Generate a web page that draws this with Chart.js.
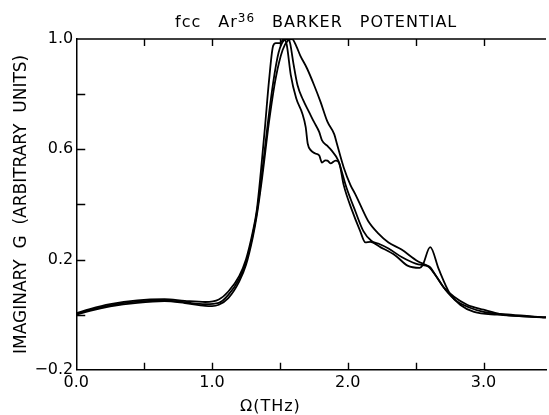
<!DOCTYPE html>
<html>
<head>
<meta charset="utf-8">
<script src="https://cdn.jsdelivr.net/npm/chart.js@4.4.0/dist/chart.umd.min.js"></script>
<style>
    body { margin: 0; background: #fff; }
</style>
</head>
<body>
<canvas id="gChart" width="549" height="415"></canvas>
<script>
// three spectra (Omega in THz, Im G arbitrary units)
const omegaA = [0, 0.1, 0.25, 0.45, 0.65, 0.8, 0.95, 1.0, 1.05, 1.12, 1.2, 1.25, 1.3, 1.33, 1.37, 1.42, 1.47, 1.52, 1.56, 1.59, 1.62, 1.65, 1.70, 1.75, 1.80, 1.85, 1.90, 1.92, 1.97, 2.02, 2.055, 2.10, 2.15, 2.224, 2.3, 2.393, 2.515, 2.6, 2.65, 2.709, 2.78, 2.879, 3.0, 3.145, 3.46];
const imgA   = [0.0, 0.014, 0.03, 0.043, 0.049, 0.042, 0.032, 0.031, 0.036, 0.06, 0.12, 0.18, 0.28, 0.36, 0.5, 0.7, 0.86, 0.96, 0.995, 1.0, 0.975, 0.94, 0.893, 0.835, 0.771, 0.70, 0.655, 0.62, 0.534, 0.47, 0.437, 0.39, 0.34, 0.295, 0.262, 0.237, 0.194, 0.172, 0.14, 0.097, 0.066, 0.036, 0.018, 0.0, -0.01];

const omegaB = [0, 0.1, 0.25, 0.45, 0.65, 0.8, 0.95, 1.05, 1.12, 1.2, 1.25, 1.3, 1.33, 1.37, 1.41, 1.45, 1.49, 1.53, 1.56, 1.575, 1.6, 1.63, 1.67, 1.715, 1.75, 1.79, 1.81, 1.85, 1.88, 1.93, 1.99, 2.055, 2.115, 2.175, 2.224, 2.3, 2.4, 2.5, 2.55, 2.6, 2.65, 2.72, 2.8, 2.9, 3.0, 3.2, 3.46];
const imgB   = [0.003, 0.017, 0.034, 0.047, 0.052, 0.045, 0.038, 0.043, 0.072, 0.13, 0.19, 0.29, 0.37, 0.52, 0.69, 0.84, 0.95, 0.995, 1.0, 0.985, 0.91, 0.832, 0.78, 0.735, 0.70, 0.662, 0.632, 0.612, 0.596, 0.559, 0.461, 0.376, 0.303, 0.267, 0.258, 0.24, 0.208, 0.185, 0.18, 0.175, 0.14, 0.09, 0.05, 0.025, 0.01, 0.0, -0.01];

const omegaC = [0, 0.1, 0.25, 0.45, 0.65, 0.8, 0.95, 1.05, 1.12, 1.2, 1.25, 1.3, 1.33, 1.36, 1.39, 1.42, 1.45, 1.47, 1.50, 1.53, 1.55, 1.58, 1.62, 1.665, 1.69, 1.705, 1.73, 1.76, 1.79, 1.81, 1.835, 1.85, 1.873, 1.91, 1.935, 1.97, 2.03, 2.09, 2.13, 2.165, 2.24, 2.35, 2.44, 2.53, 2.55, 2.607, 2.67, 2.75, 2.83, 2.93, 3.1, 3.46];
const imgC   = [0.005, 0.02, 0.038, 0.052, 0.056, 0.05, 0.046, 0.055, 0.084, 0.14, 0.2, 0.3, 0.38, 0.52, 0.68, 0.85, 0.975, 0.985, 0.985, 1.0, 0.98, 0.87, 0.785, 0.73, 0.68, 0.62, 0.595, 0.585, 0.577, 0.552, 0.56, 0.559, 0.549, 0.559, 0.552, 0.47, 0.38, 0.305, 0.262, 0.264, 0.245, 0.215, 0.178, 0.17, 0.178, 0.245, 0.165, 0.078, 0.035, 0.01, 0.0, -0.01];

const titleWords = ["fcc", "Ar", "BARKER", "POTENTIAL"];
const titleSup = "36";
const xAxisTitle = "\u03A9(THz)";
const yAxisTitle = "IMAGINARY  G  (ARBITRARY  UNITS)";

const FONT = "DejaVu Sans";

function toPoints(xs, ys) {
    return xs.map((x, i) => ({ x: x, y: ys[i] }));
}

// inward tick marks, top frame line and the hand-lettered texts
const frameAndText = {
    id: "frameAndText",
    afterDraw(chart) {
        const { ctx, chartArea: a, scales: { x, y } } = chart;
        ctx.save();
        ctx.strokeStyle = "#000";
        ctx.lineWidth = 1.4;
        ctx.beginPath();
        ctx.moveTo(a.left, a.top);
        ctx.lineTo(a.right, a.top);
        x.ticks.forEach((t) => {
            const v = t.value * 2;
            if (Math.abs(v - Math.round(v)) > 1e-6 || t.value <= 0) return;
            const px = Math.round(x.getPixelForValue(t.value)) + 0.5;
            ctx.moveTo(px, a.bottom);
            ctx.lineTo(px, a.bottom - 7);
            ctx.moveTo(px, a.top);
            ctx.lineTo(px, a.top + 7);
        });
        y.ticks.forEach((t) => {
            const v = t.value * 5;
            if (Math.abs(v - Math.round(v)) > 1e-6) return;
            if (t.value <= -0.2 + 1e-6 || t.value >= 1.0 - 1e-6) return;
            const py = Math.round(y.getPixelForValue(t.value)) + 0.5;
            ctx.moveTo(a.left, py);
            ctx.lineTo(a.left + 9, py);
        });
        ctx.stroke();

        // title with superscript
        ctx.fillStyle = "#000";
        ctx.textBaseline = "alphabetic";
        ctx.textAlign = "left";
        ctx.letterSpacing = "1px";
        const big = "16px '" + FONT + "'";
        const small = "12px '" + FONT + "'";
        const gap = 17;
        ctx.font = big;
        const w0 = ctx.measureText(titleWords[0]).width;
        const w1 = ctx.measureText(titleWords[1]).width;
        const w2 = ctx.measureText(titleWords[2]).width;
        const w3 = ctx.measureText(titleWords[3]).width;
        ctx.font = small;
        const ws = ctx.measureText(titleSup).width;
        const total = w0 + w1 + ws + w2 + w3 + gap * 3;
        let tx = (a.left + a.right) / 2 + 5 - total / 2;
        const base = 27;
        ctx.font = big;
        ctx.fillText(titleWords[0], tx, base);
        tx += w0 + gap;
        ctx.fillText(titleWords[1], tx, base);
        tx += w1;
        ctx.font = small;
        ctx.fillText(titleSup, tx, base - 5);
        tx += ws + gap;
        ctx.font = big;
        ctx.fillText(titleWords[2], tx, base);
        tx += w2 + gap;
        ctx.fillText(titleWords[3], tx, base);

        // x axis title, set a little left of centre as in the original
        ctx.textAlign = "center";
        ctx.fillText(xAxisTitle, x.getPixelForValue(1.43), a.bottom + 41);
        ctx.restore();
    }
};

const lineStyle = {
    borderColor: "#000",
    borderWidth: 1.8,
    pointRadius: 0,
    fill: false,
    cubicInterpolationMode: "monotone"
};

new Chart(document.getElementById("gChart").getContext("2d"), {
    type: "line",
    data: {
        datasets: [
            Object.assign({ label: "A", data: toPoints(omegaA, imgA) }, lineStyle),
            Object.assign({ label: "B", data: toPoints(omegaB, imgB) }, lineStyle),
            Object.assign({ label: "C", data: toPoints(omegaC, imgC) }, lineStyle)
        ]
    },
    options: {
        responsive: false,
        animation: false,
        layout: { padding: { left: 1, right: 0, top: 39, bottom: 20 } },
        plugins: {
            legend: { display: false },
            tooltip: { enabled: false },
            title: { display: false }
        },
        scales: {
            x: {
                type: "linear",
                min: 0,
                max: 3.46,
                grid: { display: false, drawTicks: false },
                border: { color: "#000", width: 1.5 },
                ticks: {
                    stepSize: 0.5,
                    autoSkip: false,
                    maxRotation: 0,
                    padding: 3,
                    color: "#000",
                    font: { family: FONT, size: 16 },
                    callback: (v) => (Math.abs(v - Math.round(v)) < 1e-6 ? v.toFixed(1) : "")
                }
            },
            y: {
                min: -0.2,
                max: 1.0,
                grid: { display: false, drawTicks: false },
                border: { color: "#000", width: 1.5 },
                ticks: {
                    stepSize: 0.2,
                    autoSkip: false,
                    padding: 3,
                    color: "#000",
                    font: { family: FONT, size: 16 },
                    callback: (v) => {
                        const k = Math.round(v * 10);
                        if ((k + 2) % 4 !== 0) return "";
                        return (k < 0 ? "\u2212" : "") + Math.abs(v).toFixed(1);
                    }
                },
                title: {
                    display: true,
                    text: yAxisTitle,
                    color: "#000",
                    font: { family: FONT, size: 17 },
                    padding: { top: 10, bottom: 0 }
                }
            }
        }
    },
    plugins: [frameAndText]
});
</script>
</body>
</html>
